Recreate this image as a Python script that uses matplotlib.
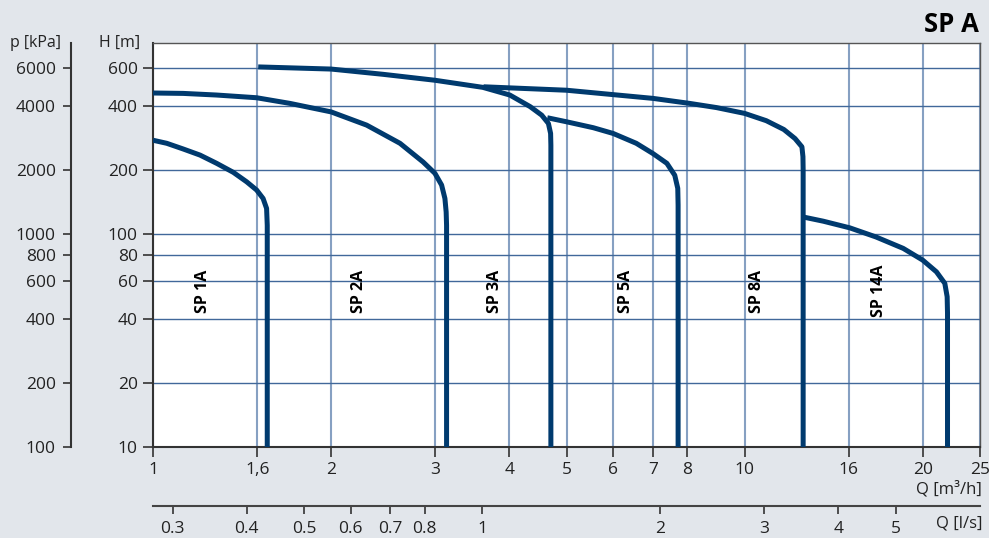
import matplotlib
matplotlib.use('Agg')
import matplotlib.pyplot as plt
from matplotlib.ticker import FixedLocator, NullLocator

plt.rcParams['font.family'] = ['Open Sans', 'DejaVu Sans']

# pump curves, Q in m3/h, H in m
sp1a_q = [1.0, 1.055, 1.125, 1.201, 1.281, 1.367, 1.440, 1.497, 1.535, 1.556, 1.56, 1.56]
sp1a_h = [276, 267, 251, 235, 215, 195, 176, 161, 147, 132, 110, 10]

sp2a_q = [1.0, 1.125, 1.281, 1.497, 1.705, 2.0, 2.297, 2.615, 2.862, 2.996, 3.075, 3.115, 3.13, 3.135, 3.135]
sp2a_h = [460, 458, 450, 437, 411, 375, 325, 267, 218, 193, 170, 147, 127, 110, 10]

sp3a_q = [1.506, 2.0, 2.449, 2.996, 3.61, 4.01, 4.34, 4.54, 4.66, 4.70, 4.705, 4.705]
sp3a_h = [610, 596, 563, 528, 489, 450, 397, 362, 331, 297, 262, 10]

sp5a_q = [4.64, 5.00, 5.55, 5.995, 6.56, 7.0, 7.39, 7.62, 7.71, 7.72, 7.72]
sp5a_h = [352, 337, 316, 297, 267, 239, 215, 189, 164, 137, 10]

sp8a_q = [3.62, 5.00, 7.0, 8.08, 8.96, 10.0, 10.88, 11.65, 12.17, 12.50, 12.55, 12.56, 12.56]
sp8a_h = [492, 474, 434, 411, 393, 369, 341, 310, 281, 257, 231, 200, 10]

sp14a_q = [12.62, 13.58, 15.06, 16.67, 18.54, 20.0, 21.1, 21.8, 22.0, 22.03, 22.03]
sp14a_h = [120, 115, 107, 97, 85.7, 75.5, 66.5, 58.7, 50.8, 42.6, 10]

curves = [
    (sp1a_q, sp1a_h),
    (sp2a_q, sp2a_h),
    (sp3a_q, sp3a_h),
    (sp5a_q, sp5a_h),
    (sp8a_q, sp8a_h),
    (sp14a_q, sp14a_h),
]

curve_names = ["SP 1A", "SP 2A", "SP 3A", "SP 5A", "SP 8A", "SP 14A"]
name_q = [1.215, 2.228, 3.79, 6.31, 10.5, 16.9]

# the chart prints "1,6" and "16" on the 1.5 and 15 grid lines
q_ticks = [1, 1.5, 2, 3, 4, 5, 6, 7, 8, 10, 15, 20, 25]
q_labels = ["1", "1,6", "2", "3", "4", "5", "6", "7", "8", "10", "16", "20", "25"]
h_ticks = [10, 20, 40, 60, 80, 100, 200, 400, 600]
p_ticks = [100, 200, 400, 600, 800, 1000, 2000, 4000, 6000]
ls_ticks = [0.3, 0.4, 0.5, 0.6, 0.7, 0.8, 1, 2, 3, 4, 5]
ls_labels = ["0.3", "0.4", "0.5", "0.6", "0.7", "0.8", "1", "2", "3", "4", "5"]

bg = '#e2e6eb'
navy = '#003a6e'
hgrid = '#41689a'
vgrid = '#86a0c2'
txt = '#222222'
fs = 12.5

fig = plt.figure(figsize=(9.89, 5.38), dpi=100, facecolor=bg)

W, H = 989, 538
x0, x1, y_top, y_bot = 153, 980, 43, 447
ax = fig.add_axes([x0 / W, 1 - y_bot / H, (x1 - x0) / W, (y_bot - y_top) / H])
ax.set_facecolor('white')
ax.set_xscale('log')
ax.set_yscale('log')
ax.set_xlim(1, 25)
ax.set_ylim(10, 790)

for q, h in curves:
    ax.plot(q, h, color=navy, lw=3.6, solid_joinstyle='round', solid_capstyle='butt', zorder=3)

for name, q in zip(curve_names, name_q):
    ax.text(q, 54, name, rotation=90, ha='center', va='center', fontsize=11.5,
            fontweight='bold', color='black', zorder=4)

ax.xaxis.set_major_locator(FixedLocator(q_ticks))
ax.xaxis.set_minor_locator(NullLocator())
ax.set_xticklabels(q_labels)
ax.yaxis.set_major_locator(FixedLocator(h_ticks))
ax.yaxis.set_minor_locator(NullLocator())
ax.set_yticklabels([str(v) for v in h_ticks])
ax.xaxis.grid(True, color=vgrid, lw=1.5)
ax.yaxis.grid(True, color=hgrid, lw=1.0)
ax.tick_params(axis='both', direction='out', length=7, width=1.2, colors='#333333',
               labelsize=fs, labelcolor=txt, pad=4)
for s in ['top', 'right']:
    ax.spines[s].set_color('#555555')
    ax.spines[s].set_linewidth(1.0)
for s in ['left', 'bottom']:
    ax.spines[s].set_color('#333333')
    ax.spines[s].set_linewidth(1.5)

# pressure axis
px = 71
axp = fig.add_axes([px / W, 1 - y_bot / H, 0.0001, (y_bot - y_top) / H])
axp.set_yscale('log')
axp.set_ylim(100, 7900)
axp.patch.set_visible(False)
for s in ['top', 'right', 'bottom']:
    axp.spines[s].set_visible(False)
axp.spines['left'].set_color('#333333')
axp.spines['left'].set_linewidth(1.5)
axp.set_xticks([])
axp.yaxis.set_major_locator(FixedLocator(p_ticks))
axp.yaxis.set_minor_locator(NullLocator())
axp.set_yticklabels([str(v) for v in p_ticks])
axp.tick_params(axis='y', direction='out', length=6, width=1.2, colors='#333333',
                labelsize=fs, labelcolor=txt, pad=5)

# l/s axis
ly = 506
axl = fig.add_axes([x0 / W, 1 - ly / H, (x1 - x0) / W, 0.0001])
axl.set_xscale('log')
axl.set_xlim(1 / 3.6, 25 / 3.6)
axl.patch.set_visible(False)
for s in ['top', 'right', 'left']:
    axl.spines[s].set_visible(False)
axl.spines['bottom'].set_color('#444444')
axl.spines['bottom'].set_linewidth(1.5)
axl.set_yticks([])
axl.xaxis.set_major_locator(FixedLocator(ls_ticks))
axl.xaxis.set_minor_locator(NullLocator())
axl.set_xticklabels(ls_labels)
axl.tick_params(axis='x', direction='out', length=5.5, width=1.2, colors='#333333',
                labelsize=fs, labelcolor=txt, pad=5)

# axis titles
fig.text(120 / W, 1 - 43 / H, "H [m]", ha='center', va='center', fontsize=11.5, color=txt)
fig.text(35 / W, 1 - 43 / H, "p [kPa]", ha='center', va='center', fontsize=11.5, color=txt)
fig.text(982 / W, 1 - 489 / H, "Q [m³/h]", ha='right', va='center', fontsize=12, color=txt)
fig.text(982 / W, 1 - 523 / H, "Q [l/s]", ha='right', va='center', fontsize=12, color=txt)
fig.text(979 / W, 1 - 25 / H, "SP A", ha='right', va='center', fontsize=18.5,
         fontweight='bold', color='black')

fig.savefig('out.png', dpi=100, facecolor=bg)
